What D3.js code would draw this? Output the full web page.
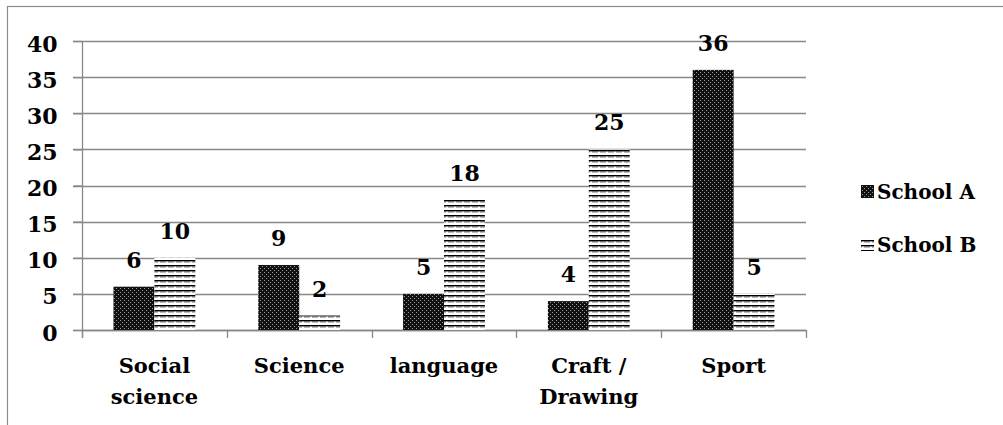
<!DOCTYPE html>
<html>
<head>
<meta charset="utf-8">
<script src="https://cdn.jsdelivr.net/npm/d3@7"></script>
<style>
  html, body { margin: 0; padding: 0; background: #fff; }
  svg { display: block; }
  text { font-family: "DejaVu Serif", "Liberation Serif", serif; font-weight: bold; fill: #000; }
</style>
</head>
<body>
<svg id="chart" width="1003" height="425"></svg>
<script>
const categories = [["Social", "science"], ["Science"], ["language"], ["Craft /", "Drawing"], ["Sport"]];
const categoryKeys = ["Social science", "Science", "language", "Craft / Drawing", "Sport"];
const series = ["School A", "School B"];
const schoolA = [6, 9, 5, 4, 36];
const schoolB = [10, 2, 18, 25, 5];
const yTicks = [0, 5, 10, 15, 20, 25, 30, 35, 40];

const svg = d3.select("#chart");
const W = 1003, H = 425;
const plot = { left: 82, right: 806, top: 41, bottom: 330 };
const gridColor = "#888888";

// patterns
const defs = svg.append("defs");
const pa = defs.append("pattern").attr("id", "patA").attr("patternUnits", "userSpaceOnUse")
  .attr("width", 4).attr("height", 4);
pa.append("rect").attr("width", 4).attr("height", 4).attr("fill", "#111");
pa.append("rect").attr("x", 0).attr("y", 0).attr("width", 1).attr("height", 1).attr("fill", "#9a9a9a");
pa.append("rect").attr("x", 2).attr("y", 2).attr("width", 1).attr("height", 1).attr("fill", "#9a9a9a");

const pb = defs.append("pattern").attr("id", "patB").attr("patternUnits", "userSpaceOnUse")
  .attr("width", 8).attr("height", 5);
pb.append("rect").attr("width", 8).attr("height", 5).attr("fill", "#fff");
pb.append("rect").attr("x", 0).attr("y", 0).attr("width", 8).attr("height", 1.4).attr("fill", "#000");
pb.append("rect").attr("x", 0).attr("y", 1.4).attr("width", 6).attr("height", 1).attr("fill", "#555");

// outer frame
svg.append("rect").attr("x", 7.5).attr("y", 6.5).attr("width", W + 20).attr("height", H + 20)
  .attr("fill", "none").attr("stroke", "#8c8c8c").attr("stroke-width", 1.2);

const x = d3.scaleBand().domain(categoryKeys).range([plot.left, plot.right]).paddingInner(0).paddingOuter(0);
const xs = d3.scaleBand().domain(series).range([0, x.bandwidth()]).paddingInner(0).paddingOuter(0.77);
const y = d3.scaleLinear().domain([0, 40]).range([plot.bottom, plot.top]);

// gridlines
svg.append("g").selectAll("line").data(yTicks).join("line")
  .attr("x1", plot.left - 9).attr("x2", plot.right)
  .attr("y1", d => Math.round(y(d)) + 0.5).attr("y2", d => Math.round(y(d)) + 0.5)
  .attr("stroke", gridColor).attr("stroke-width", 1.3);

// y axis
const yAxis = d3.axisLeft(y).tickValues(yTicks).tickSize(9).tickPadding(16).tickFormat(d3.format("d"));
const gy = svg.append("g").attr("transform", `translate(${plot.left + 0.5},0)`).call(yAxis);
gy.select(".domain").remove();
gy.selectAll(".tick line").attr("stroke", gridColor).attr("stroke-width", 1.3);
gy.selectAll(".tick text").attr("font-size", 22).attr("font-family", "DejaVu Serif").attr("font-weight", "bold")
  .attr("dy", null).attr("y", 10).attr("fill", "#000");
svg.append("line").attr("x1", plot.left + 0.5).attr("x2", plot.left + 0.5)
  .attr("y1", plot.top).attr("y2", plot.bottom + 8)
  .attr("stroke", gridColor).attr("stroke-width", 1.3);

// x axis baseline & boundary ticks
const boundaries = categoryKeys.map(c => x(c)).concat([x(categoryKeys[categoryKeys.length - 1]) + x.bandwidth()]);
svg.append("line").attr("x1", plot.left).attr("x2", plot.right)
  .attr("y1", plot.bottom + 0.5).attr("y2", plot.bottom + 0.5)
  .attr("stroke", gridColor).attr("stroke-width", 1.3);
svg.append("g").selectAll("line").data(boundaries).join("line")
  .attr("x1", d => Math.round(d) + 0.5).attr("x2", d => Math.round(d) + 0.5)
  .attr("y1", plot.bottom).attr("y2", plot.bottom + 8)
  .attr("stroke", gridColor).attr("stroke-width", 1.3);

// category labels
const catG = svg.append("g");
categories.forEach((lines, i) => {
  const cx = x(categoryKeys[i]) + x.bandwidth() / 2;
  const t = catG.append("text").attr("text-anchor", "middle").attr("font-size", 21);
  lines.forEach((ln, j) => {
    t.append("tspan").attr("x", cx).attr("y", 373 + j * 31).text(ln);
  });
});

// bars
const data = categoryKeys.map((c, i) => ({ cat: c, vals: [schoolA[i], schoolB[i]] }));
const fills = ["url(#patA)", "url(#patB)"];
const barG = svg.append("g");
data.forEach(d => {
  d.vals.forEach((v, k) => {
    const bx = x(d.cat) + xs(series[k]);
    barG.append("rect")
      .attr("x", bx).attr("y", y(v)).attr("width", xs.bandwidth()).attr("height", y(0) - y(v))
      .attr("fill", fills[k]);
    barG.append("text").attr("text-anchor", "middle").attr("font-size", 22)
      .attr("x", bx + xs.bandwidth() / 2).attr("y", y(v) - 19).text(v);
  });
});

// legend
const lg = svg.append("g");
series.forEach((s, k) => {
  const ly = 185 + k * 53;
  lg.append("rect").attr("x", 861).attr("y", ly).attr("width", 13).attr("height", 13).attr("fill", fills[k]);
  lg.append("text").attr("x", 877).attr("y", ly + 14).attr("font-size", 20).text(s);
});
</script>
</body>
</html>
